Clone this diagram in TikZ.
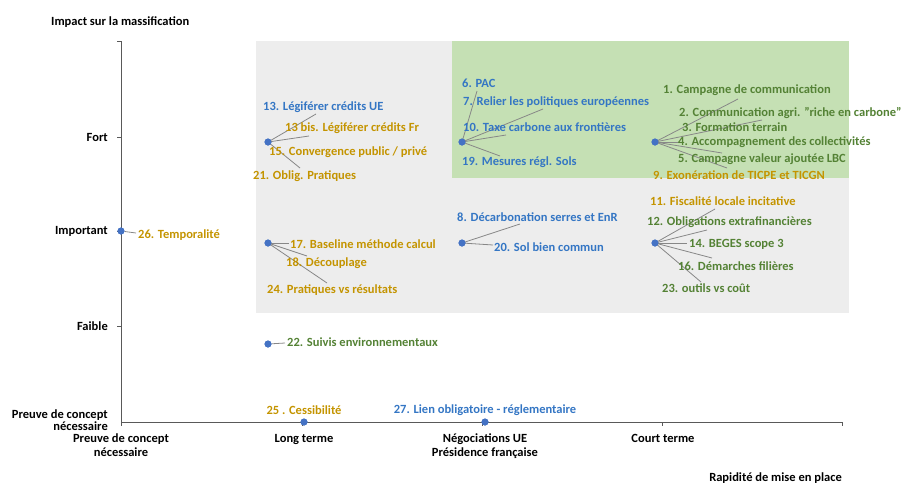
\documentclass[tikz,border=0pt]{standalone}
\usepackage{fontspec}
\setmainfont{Carlito}
\usetikzlibrary{positioning}
\definecolor{mpdot}{RGB}{68,114,196}
\definecolor{mpblue}{RGB}{52,118,196}
\definecolor{mpgold}{RGB}{196,148,0}
\definecolor{mpgreen}{RGB}{84,130,53}
\definecolor{mpaxis}{RGB}{89,89,89}
\definecolor{mplead}{RGB}{135,135,135}
\definecolor{mpgreyzone}{RGB}{237,237,237}
\definecolor{mpgreenzone}{RGB}{197,224,180}
\tikzset{
  axis/.style={draw=mpaxis, line width=1pt},
  datadot/.style={circle, fill=mpdot, inner sep=0pt, minimum size=7pt},
  lab/.style={font=\bfseries\fontsize{12.5}{14}\selectfont, inner sep=0pt, anchor=west},
  labb/.style={lab, text=mpblue},
  labo/.style={lab, text=mpgold},
  labg/.style={lab, text=mpgreen},
  axlab/.style={font=\bfseries\fontsize{12.5}{14}\selectfont, inner sep=0pt, align=center},
  leader/.style={draw=mplead, line width=0.8pt}
}
\begin{document}
\begin{tikzpicture}[x=1pt,y=-1pt]
    \useasboundingbox (0,0) rectangle (915,485);
    % zones
    \fill[mpgreyzone] (256,41) rectangle (849,313);
    \fill[mpgreenzone] (452,41) rectangle (849,178);

    % axes
    \coordinate (org) at (121,422);
    \coordinate (ytop) at (121,41);
    \coordinate (xend) at (842,422);
    \draw[axis] (ytop) -- (org) -- (xend);
    \foreach \y in {41,137,231,326} \draw[axis] (121,\y) -- ++(-4,0);
    \foreach \x in {121,302,482,662,842} \draw[axis] (\x,422) -- ++(0,4);

    \node[axlab, anchor=west] (ytitle) at (51,22) {Impact sur la massification};
    \node[axlab, anchor=east] (yfort) at (108,137) {Fort};
    \node[axlab, anchor=east] (yimp) at (108,231) {Important};
    \node[axlab, anchor=east] (yfaible) at (108,326) {Faible};
    \node[axlab, anchor=east, align=right, font=\bfseries\fontsize{12.5}{12}\selectfont] (ypreuve) at (108,420) {Preuve de concept\\nécessaire};
    \node[axlab, anchor=north] (xpreuve) at (121,434) {Preuve de concept\\nécessaire};
    \node[axlab, anchor=north] (xlong) at (304,434) {Long terme};
    \node[axlab, anchor=north] (xnego) at (485,434) {Négociations UE\\Présidence française};
    \node[axlab, anchor=north] (xcourt) at (663,434) {Court terme};
    \node[axlab, anchor=east] (xtitle) at (842,478) {Rapidité de mise en place};

    % data points
    \node[datadot] (d26) at (121,231) {};
    \node[datadot] (dA) at (268,142) {};
    \node[datadot] (dB) at (462,142) {};
    \node[datadot] (dC) at (655,142) {};
    \node[datadot] (dD) at (268,243) {};
    \node[datadot] (dE) at (462,243) {};
    \node[datadot] (dF) at (655,243) {};
    \node[datadot] (d22) at (268,344) {};
    \node[datadot] (d25) at (304,422) {};
    \node[datadot] (d27) at (485,422) {};

    % leader ends
    \path (316,114) coordinate (a1) (309,136) coordinate (a2) (300,168) coordinate (a3);
    \path (477,91) coordinate (b1) (543,109) coordinate (b2) (506,135) coordinate (b3) (500,156) coordinate (b4);
    \path (738,99) coordinate (c1) (762,120) coordinate (c2) (680,142) coordinate (c3) (722,153) coordinate (c4) (727,168) coordinate (c5);
    \path (289,243) coordinate (e1) (307,256) coordinate (e2) (327,283) coordinate (e3);
    \path (520,224) coordinate (f1) (493,245) coordinate (f2);
    \path (715,209) coordinate (g1) (707,230) coordinate (g2) (687,243) coordinate (g3) (712,258) coordinate (g4) (701,282) coordinate (g5);
    \path (136,233) coordinate (h26) (285,343) coordinate (h22);

    \foreach \e in {a1,a2,a3} \draw[leader] (dA.center) -- (\e);
    \foreach \e in {b1,b2,b3,b4} \draw[leader] (dB.center) -- (\e);
    \foreach \e in {c1,c2,c3,c4,c5} \draw[leader] (dC.center) -- (\e);
    \foreach \e in {e1,e2,e3} \draw[leader] (dD.center) -- (\e);
    \foreach \e in {f1,f2} \draw[leader] (dE.center) -- (\e);
    \foreach \e in {g1,g2,g3,g4,g5} \draw[leader] (dF.center) -- (\e);
    \draw[leader] (d26) -- (h26);
    \draw[leader] (d22) -- (h22);
    \foreach \d in {d26,dA,dB,dC,dD,dE,dF,d22,d25,d27} \node[datadot] at (\d) {};

    % labels
    \node[labo] (l26) at (138,235) {26. Temporalité};
    \node[labb] (l13) at (263,107) {13. Légiférer crédits UE};
    \node[labo] (l13b) at (285,128) {13 bis. Légiférer crédits Fr};
    \node[labo] (l15) at (269,152) {15. Convergence public / privé};
    \node[labo] (l21) at (253,176) {21. Oblig. Pratiques};
    \node[labb] (l6) at (462,83) {6. PAC};
    \node[labb] (l7) at (463,102) {7. Relier les politiques européennes};
    \node[labb] (l10) at (463,127) {10. Taxe carbone aux frontières};
    \node[labb] (l19) at (462,162) {19. Mesures régl. Sols};
    \node[labg] (l1) at (663,90) {1. Campagne de communication};
    \node[labg] (l2) at (679,113) {2. Communication agri. "riche en carbone"};
    \node[labg] (l3) at (682,127) {3. Formation terrain};
    \node[labg] (l4) at (678,142) {4. Accompagnement des collectivités};
    \node[labg] (l5) at (678,159) {5. Campagne valeur ajoutée LBC};
    \node[labo] (l9) at (653,175) {9. Exonération de TICPE et TICGN};
    \node[labo] (l17) at (290,244) {17. Baseline méthode calcul};
    \node[labo] (l18) at (286,263) {18. Découplage};
    \node[labo] (l24) at (267,290) {24. Pratiques vs résultats};
    \node[labb] (l8) at (457,217) {8. Décarbonation serres et EnR};
    \node[labb] (l20) at (494,247) {20. Sol bien commun};
    \node[labo] (l11) at (650,201) {11. Fiscalité locale incitative};
    \node[labg] (l12) at (647,222) {12. Obligations extrafinancières};
    \node[labg] (l14) at (689,244) {14. BEGES scope 3};
    \node[labg] (l16) at (678,266) {16. Démarches filières};
    \node[labg] (l23) at (662,288) {23. outils vs coût};
    \node[labg] (l22) at (287,342) {22. Suivis environnementaux};
    \node[labo, anchor=center] (l25) at (304,410) {25 . Cessibilité};
    \node[labb, anchor=center] (l27) at (485,410) {27. Lien obligatoire - réglementaire};
\end{tikzpicture}
\end{document}
